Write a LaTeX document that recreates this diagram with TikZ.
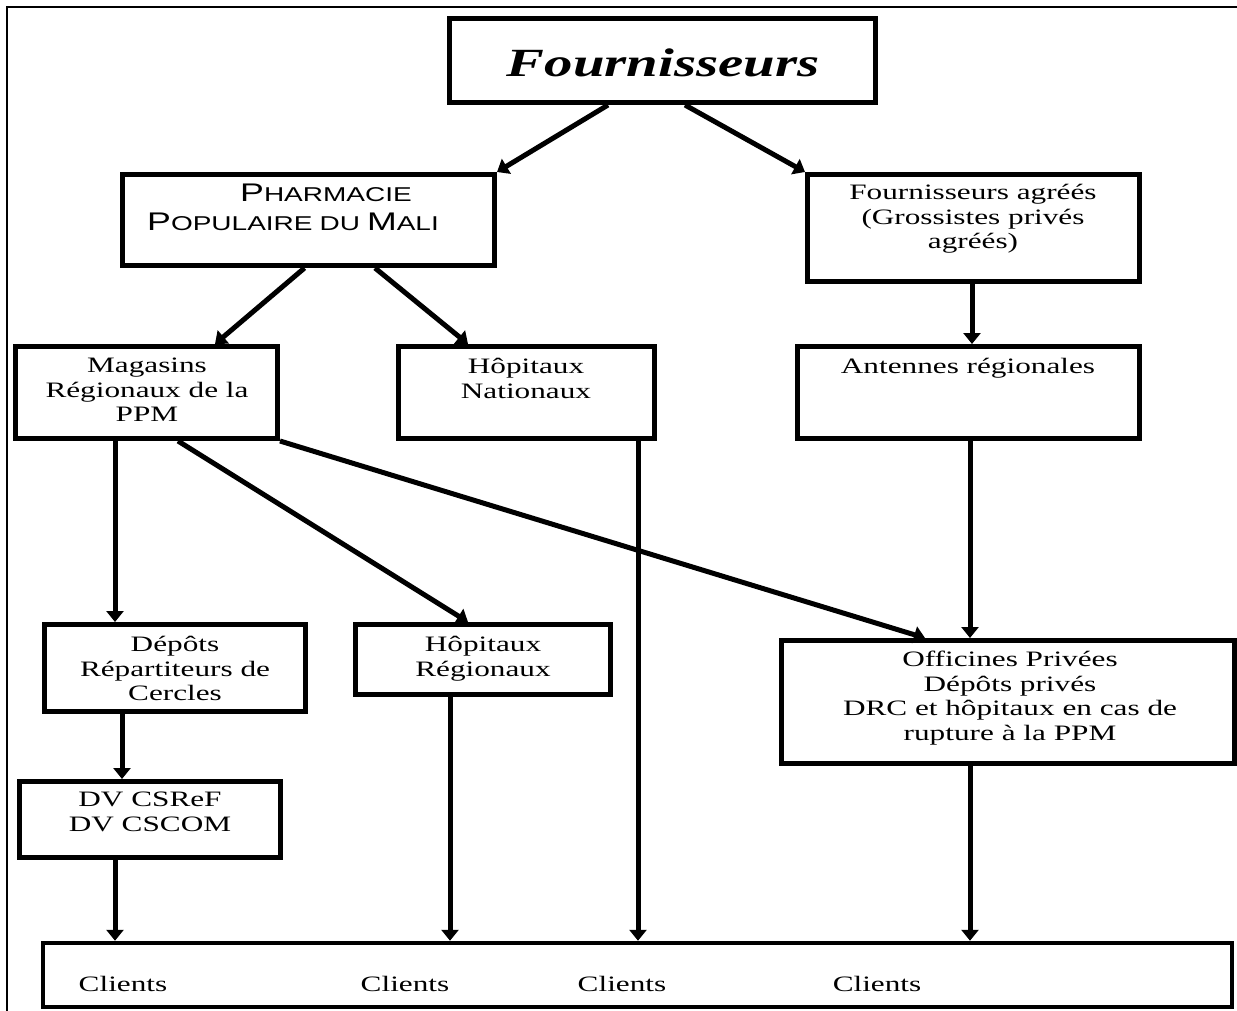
\documentclass[tikz,border=0pt]{standalone}
\usepackage{fontspec}
\setmainfont{Liberation Serif}[FakeStretch=1.42]
\newfontfamily\ppmfont{Liberation Sans}[FakeStretch=1.4]
\usetikzlibrary{arrows.meta}
\newcommand\mySC[2]{{\fontsize{25.5}{29}\selectfont #1}{\fontsize{20}{29}\selectfont #2}}
\begin{document}
\begin{tikzpicture}[x=1pt,y=-1pt,
  box/.style={draw, line width=5pt, inner sep=0pt},
  lbl/.style={inner sep=0pt, align=center, font=\fontsize{22}{24.5}\selectfont, anchor=north},
  cli/.style={inner sep=0pt, font=\fontsize{22}{24.5}\selectfont, anchor=base},
  arr/.style={line width=5pt, -{Triangle[length=11pt,width=17pt]}},
]
\useasboundingbox (0,0) rectangle (1237,1010);
% outer frame
\draw[line width=2pt] (7,1012) -- (7,7) -- (1239,7);

% boxes
\node[box, minimum width=426, minimum height=84] (F) at (662.5,60.5) {};
\node[box, minimum width=372, minimum height=91] (PPM) at (308.5,220) {};
\node[box, minimum width=332, minimum height=107] (AGR) at (973.5,228) {};
\node[box, minimum width=262, minimum height=92] (MAG) at (146.5,392.5) {};
\node[box, minimum width=256, minimum height=92] (HN) at (526.5,392.5) {};
\node[box, minimum width=342, minimum height=92] (ANT) at (968.5,392.5) {};
\node[box, minimum width=261, minimum height=87] (DEP) at (175,668) {};
\node[box, minimum width=255, minimum height=70] (HR) at (483,659.5) {};
\node[box, minimum width=453, minimum height=123] (OFF) at (1008,702) {};
\node[box, minimum width=261, minimum height=76] (DV) at (150,819.5) {};
\node[box, line width=4.5pt, minimum width=1189, minimum height=64] (CL) at (637.5,975) {};

% texts
\node[inner sep=0pt, font=\fontsize{40}{44}\selectfont\bfseries\itshape] (Ft) at (663,63) {Fournisseurs};
\node[inner sep=0pt, align=left, anchor=north west, font=\ppmfont\fontsize{25.5}{29}\selectfont] (PPMt) at (147,184)
  {\hspace*{93pt}\mySC{P}{HARMACIE}\\\mySC{P}{OPULAIRE}\hspace{7pt}\mySC{}{DU}\hspace{7pt}\mySC{M}{ALI}};
\node[lbl] (AGRt) at (973,184) {Fournisseurs agréés\\(Grossistes privés\\agréés)};
\node[lbl] (MAGt) at (147,358) {Magasins\\Régionaux de la\\PPM};
\node[lbl] (HNt) at (526,358) {Hôpitaux\\Nationaux};
\node[lbl] (ANTt) at (968,358) {Antennes régionales};
\node[lbl] (DEPt) at (175,636) {Dépôts\\Répartiteurs de\\Cercles};
\node[lbl] (HRt) at (483,636) {Hôpitaux\\Régionaux};
\node[lbl] (OFFt) at (1010,651) {Officines Privées\\Dépôts privés\\DRC et hôpitaux en cas de\\rupture à la PPM};
\node[lbl] (DVt) at (150,792) {DV CSReF\\DV CSCOM};
\node[cli] (C1) at (123,991) {Clients};
\node[cli] (C2) at (405,991) {Clients};
\node[cli] (C3) at (622,991) {Clients};
\node[cli] (C4) at (877,991) {Clients};

% connectors
\draw[arr] ([xshift=-54.5pt]F.south) -- (PPM.north east);
\draw[arr] ([xshift=22.5pt]F.south) -- (AGR.north west);
\draw[arr] ([xshift=-4pt]PPM.south) -- ([xshift=68.5pt]MAG.north);
\draw[arr] ([xshift=66.5pt]PPM.south) -- ([xshift=-58.5pt]HN.north);
\draw[arr] ([xshift=-1.5pt]AGR.south) -- ([xshift=3.5pt]ANT.north);
\draw[arr] ([xshift=-31.5pt]MAG.south) -- ([xshift=-60pt]DEP.north);
\draw[arr] ([xshift=31.5pt]MAG.south) -- ([xshift=-15pt]HR.north);
\draw[arr] (MAG.south east) -- ([xshift=-83pt]OFF.north);
\draw[arr] ([xshift=1.5pt]ANT.south) -- ([xshift=-38pt]OFF.north);
\draw[arr] ([xshift=111.5pt]HN.south) -- ([xshift=0.5pt]CL.north);
\draw[arr] ([xshift=-53pt]DEP.south) -- ([xshift=-28pt]DV.north);
\draw[arr] ([xshift=-35pt]DV.south) -- ([xshift=-522.5pt]CL.north);
\draw[arr] ([xshift=-33pt]HR.south) -- ([xshift=-187.5pt]CL.north);
\draw[arr] ([xshift=-38pt]OFF.south) -- ([xshift=332.5pt]CL.north);
\end{tikzpicture}
\end{document}
